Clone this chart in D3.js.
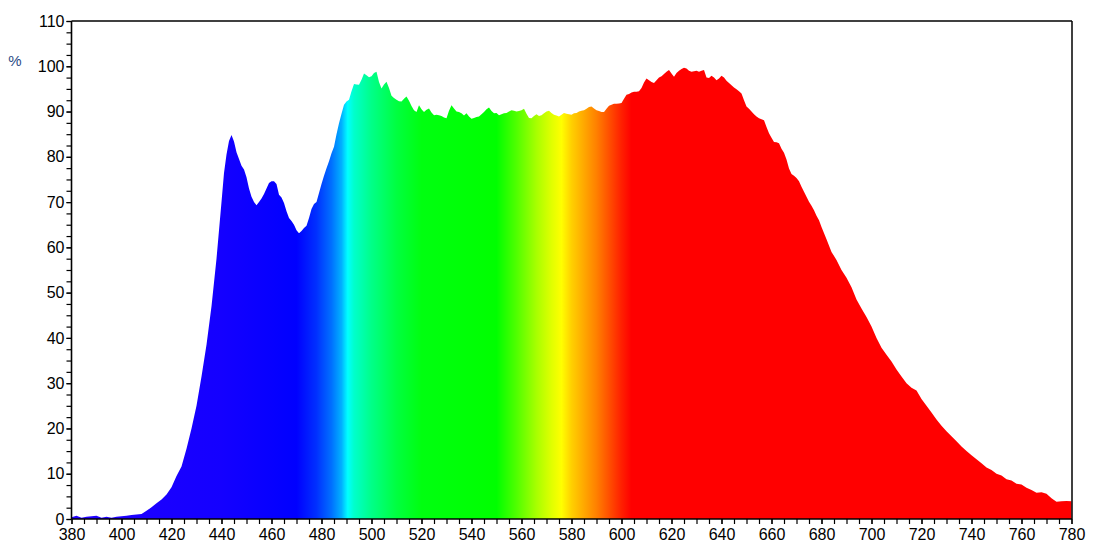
<!DOCTYPE html>
<html><head><meta charset="utf-8">
<script src="https://cdn.jsdelivr.net/npm/d3@7"></script>
<style>html,body{margin:0;padding:0;background:#fff;} svg{display:block;font-family:"Liberation Sans",Arial,sans-serif;}</style>
</head><body><svg id="c" width="1103" height="553"></svg>
<script>
const wavelengths = [380,382,384,386,388,390,392,394,396,398,400,402,404,406,408,410,412,414,416,418,420,422,424,426,428,430,432,434,436,438,440,441,442,443,444,445,446,447,448,449,450,451,452,453,454,455,456,457,458,459,460,461,462,463,464,465,466,467,468,469,470,471,472,473,474,475,476,477,478,479,480,481,482,483,484,485,486,487,488,489,490,491,492,493,494,495,496,497,498,499,500,501,502,503,504,505,506,507,508,509,510,511,512,513,514,515,516,517,518,519,520,521,522,523,524,525,526,527,528,529,530,531,532,533,534,535,536,537,538,539,540,541,542,543,544,545,546,547,548,549,550,551,552,553,554,555,556,557,558,559,560,561,562,563,564,565,566,567,568,569,570,571,572,573,574,575,576,577,578,579,580,581,582,583,584,585,586,587,588,589,590,591,592,593,594,595,596,597,598,599,600,601,602,603,604,605,606,607,608,609,610,611,612,613,614,615,616,617,618,619,620,621,622,623,624,625,626,627,628,629,630,631,632,633,634,635,636,637,638,639,640,641,642,643,644,645,646,647,648,649,650,651,652,653,654,655,656,657,658,659,660,661,662,663,664,665,666,667,668,669,670,671,672,673,674,675,676,677,678,679,680,682,684,686,688,690,692,694,696,698,700,702,704,706,708,710,712,714,716,718,720,722,724,726,728,730,732,734,736,738,740,742,744,746,748,750,752,754,756,758,760,762,764,766,768,770,772,774,776,778,780];
const intensity = [0.4,0.7,0.3,0.5,0.6,0.7,0.3,0.5,0.3,0.5,0.6,0.7,0.9,1.0,1.1,1.8,2.6,3.5,4.3,5.4,7.0,9.5,11.6,15.5,20.0,25.0,31.5,38.5,47.0,57.5,70.0,76.4,80.5,83.5,84.8,83.4,81.0,79.5,78.0,77.2,75.5,73.0,71.2,70.0,69.3,70.0,70.8,71.8,73.0,74.2,74.6,74.6,74.0,71.6,71.0,69.8,68.0,66.5,65.8,65.0,63.8,63.1,63.6,64.3,64.8,66.5,68.5,69.6,70.0,72.0,74.0,75.8,77.5,79.0,80.8,82.2,85.0,87.4,89.5,91.5,92.2,92.6,94.5,96.1,96.0,95.9,97.0,98.4,98.0,97.6,97.8,98.5,98.8,96.5,95.1,96.0,96.6,95.2,93.5,93.0,92.6,92.3,92.2,92.8,93.3,92.4,91.2,90.3,89.9,91.4,90.5,89.9,90.4,90.7,89.8,89.2,89.3,89.2,89.0,88.7,88.5,90.2,91.4,90.7,90.0,89.9,89.6,89.1,89.6,88.9,88.4,88.6,88.8,88.9,89.4,89.9,90.5,90.9,90.1,89.6,89.7,89.2,89.4,89.6,89.7,90.0,90.3,90.2,90.0,90.1,90.3,90.6,89.5,88.6,88.5,89.0,89.4,89.0,89.2,89.6,90.0,90.2,89.7,89.3,89.1,88.9,89.3,89.7,89.5,89.4,89.3,89.6,89.7,90.0,90.2,90.3,90.6,91.0,91.1,90.7,90.3,90.1,89.9,89.9,90.6,91.3,91.5,91.7,91.7,91.8,91.9,92.8,93.7,93.9,94.2,94.4,94.4,94.5,95.2,96.4,97.3,96.9,96.5,96.3,96.9,97.5,97.8,98.3,98.8,99.2,98.4,97.7,98.5,99.0,99.4,99.7,99.5,99.0,98.8,98.9,99.0,98.8,99.0,99.2,97.5,97.4,97.9,97.5,96.9,97.3,97.9,97.5,96.8,96.3,95.8,95.3,94.9,94.5,94.0,92.5,91.1,90.6,90.0,89.4,88.9,88.5,88.3,88.1,86.6,85.2,84.2,83.3,83.2,83.0,81.8,80.9,79.4,77.4,76.2,75.8,75.3,74.6,73.4,72.3,71.2,70.1,69.2,68.2,67.0,66.0,64.5,61.8,59.0,57.2,55.0,53.3,51.2,48.5,46.5,44.6,42.5,40.0,37.8,36.3,34.8,33.0,31.5,30.0,29.0,28.4,26.5,25.0,23.5,22.0,20.6,19.4,18.3,17.2,16.0,15.0,14.1,13.2,12.3,11.4,10.8,10.0,9.6,8.8,8.5,7.8,7.6,6.9,6.4,5.8,5.9,5.6,4.6,3.8,3.9,4.0,3.9];
const xTicks = [380,400,420,440,460,480,500,520,540,560,580,600,620,640,660,680,700,720,740,760,780];
const yTicks = [0,10,20,30,40,50,60,70,80,90,100,110];
const yUnit = "%";
// spectrum colour stops (wavelength -> colour)
const stopNm = [380,440,470,478,484,488,490.5,493,500,510,520,550,558,566,572,576,580,585,590,595,600,604,780];
const stopColor = ["#2200ff","#1400ff","#0000ff","#0030ff","#0070ff","#00b0ff","#00ffff","#00ffcc","#00ff88","#00ff40","#00ff10","#00ff00","#50ff00","#a8ff00","#e0ff00","#ffff00","#ffd000","#ffa800","#ff8000","#ff5000","#ff2000","#ff0000","#ff0000"];

const svg = d3.select("#c");
const L = 71.5, R = 1071.5, T = 21, B = 519;
const x = d3.scaleLinear().domain([380,780]).range([L,R]);
const y = d3.scaleLinear().domain([0,110]).range([B,T]);

const defs = svg.append("defs");
const grad = defs.append("linearGradient").attr("id","spec").attr("gradientUnits","userSpaceOnUse")
  .attr("x1",x(380)).attr("x2",x(780)).attr("y1",0).attr("y2",0);
stopNm.forEach((n,i)=>grad.append("stop").attr("offset",(x(n)-x(380))/(x(780)-x(380))).attr("stop-color",stopColor[i]));

const data = wavelengths.map((w,i)=>({w, v:intensity[i]}));
const area = d3.area().x(d=>x(d.w)).y0(y(0)).y1(d=>y(d.v)).curve(d3.curveLinear);
svg.append("path").datum(data).attr("d",area).attr("fill","url(#spec)");

// frame top & right
svg.append("line").attr("x1",L).attr("x2",R+0.5).attr("y1",T).attr("y2",T).attr("stroke","#000").attr("stroke-width",1.5);
svg.append("line").attr("x1",R+0.5).attr("x2",R+0.5).attr("y1",T).attr("y2",B).attr("stroke","#000").attr("stroke-width",1.5);

// y axis
const yMinor = d3.range(0,110.01,2.5);
const gy = svg.append("g").attr("transform",`translate(${L},0)`);
gy.call(d3.axisLeft(y).tickValues(yMinor).tickSize(5).tickFormat(""));
gy.call(g=>g.selectAll(".domain").remove());
const gy2 = svg.append("g").attr("transform",`translate(${L},0)`);
gy2.call(d3.axisLeft(y).tickValues(yTicks).tickSize(5).tickPadding(2).tickFormat(d3.format("d")));
gy2.selectAll("text").attr("font-size","16px").attr("fill","#000").attr("font-family","Liberation Sans, Arial, sans-serif");
[gy,gy2].forEach(g=>{g.selectAll(".tick line").attr("stroke","#000").attr("stroke-width",1.2);});
gy2.select(".domain").attr("stroke","#000").attr("stroke-width",1.6).attr("d",`M0,${B}V${T}`);

// x axis
const xMinor = d3.range(380,780.01,5);
const gx = svg.append("g").attr("transform",`translate(0,${B})`);
gx.call(d3.axisBottom(x).tickValues(xMinor).tickSize(5).tickFormat(""));
gx.call(g=>g.selectAll(".domain").remove());
const gx2 = svg.append("g").attr("transform",`translate(0,${B})`);
gx2.call(d3.axisBottom(x).tickValues(xTicks).tickSize(5).tickPadding(5).tickFormat(d3.format("d")));
gx2.selectAll("text").attr("font-size","16px").attr("fill","#000").attr("font-family","Liberation Sans, Arial, sans-serif");
[gx,gx2].forEach(g=>{g.selectAll(".tick line").attr("stroke","#000").attr("stroke-width",1.2);});
gx2.select(".domain").attr("stroke","#000").attr("stroke-width",1.6).attr("d",`M${L},0H${R+0.5}`);

svg.append("text").attr("x",15).attr("y",66).attr("text-anchor","middle").attr("font-size","15px")
  .attr("fill","#2b4c86").text(yUnit);
</script></body></html>
